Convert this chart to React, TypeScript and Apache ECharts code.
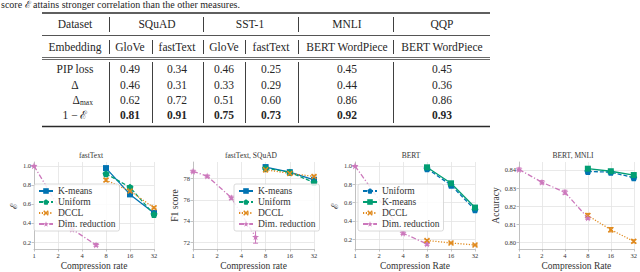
import React, { useEffect, useRef } from "react";
import * as echarts from "echarts";

// ---------- table data ----------
const caption = "score ℰ attains stronger correlation than the other measures.";
const datasets = ["SQuAD", "SST-1", "MNLI", "QQP"];
const embeddings = ["GloVe", "fastText", "GloVe", "fastText", "BERT WordPiece", "BERT WordPiece"];
const pipLoss = [0.49, 0.34, 0.46, 0.25, 0.45, 0.45];
const deltaCorr = [0.46, 0.31, 0.33, 0.29, 0.44, 0.36];
const deltaMaxCorr = [0.62, 0.72, 0.51, 0.6, 0.86, 0.86];
const oneMinusECorr = [0.81, 0.91, 0.75, 0.73, 0.92, 0.93];

// ---------- chart data ----------
const quantRates = [8, 16, 32];

// fastText
const ftKmeans = [0.976, 0.7, 0.505];
const ftKmeansErr = [0.015, 0.015, 0.01];
const ftUniform = [0.917, 0.775, 0.49];
const ftUniformErr = [0.015, 0.015, 0.01];
const ftDccl = [0.85, 0.735, 0.56];
const ftDcclErr = [0.015, 0.012, 0.01];
const ftDimRates = [1, 3, 6];
const ftDim = [1.0, 0.335, 0.17];
const ftDimErr = [0.005, 0.01, 0.015];

// fastText, SQuAD
const sqKmeans = [79.1, 78.62, 77.9];
const sqKmeansErr = [0.12, 0.08, 0.1];
const sqUniform = [79.0, 78.6, 77.65];
const sqUniformErr = [0.1, 0.1, 0.15];
const sqDccl = [78.85, 78.5, 78.22];
const sqDcclErr = [0.2, 0.15, 0.1];
const sqDimRates = [1, 1.5, 3, 6];
const sqDim = [78.7, 78.25, 76.2, 72.5];
const sqDimErr = [0.1, 0.1, 0.15, 0.6];

// BERT
const btUniform = [0.97, 0.79, 0.52];
const btUniformErr = [0.01, 0.01, 0.01];
const btKmeans = [0.985, 0.81, 0.545];
const btKmeansErr = [0.01, 0.01, 0.01];
const btDccl = [0.185, 0.158, 0.136];
const btDcclErr = [0.01, 0.008, 0.008];
const btDimRates = [1, 4, 8];
const btDim = [1.0, 0.265, 0.147];
const btDimErr = [0.005, 0.015, 0.015];

// BERT, MNLI
const mnUniform = [0.8392, 0.8388, 0.8357];
const mnUniformErr = [0.0012, 0.0008, 0.0008];
const mnKmeans = [0.8407, 0.8393, 0.8372];
const mnKmeansErr = [0.0006, 0.0006, 0.0005];
const mnDccl = [0.8148, 0.807, 0.8006];
const mnDcclErr = [0.0012, 0.0012, 0.0008];
const mnDimRates = [1, 2, 4, 8];
const mnDim = [0.8403, 0.8332, 0.8277, 0.8135];
const mnDimErr = [0.0008, 0.0009, 0.0011, 0.0008];

const yTicksE = [0.2, 0.4, 0.6, 0.8, 1.0];
const yTicksF1 = [72, 74, 76, 78];
const yTicksAcc = [0.8, 0.81, 0.82, 0.83, 0.84];

// ---------- styles ----------
const serif = "Liberation Serif";
const BLUE = "#0173B2";
const GREEN = "#029E73";
const ORANGE = "#E08A1E";
const PINK = "#CC78BC";

const STAR = "path://M50,2 L61,37 L98,37 L68,59 L79,95 L50,73 L21,95 L32,59 L2,37 L39,37 Z";
const XMARK = "path://M0,18 L18,0 L50,32 L82,0 L100,18 L68,50 L100,82 L82,100 L50,68 L18,100 L0,82 L32,50 Z";
const PENT = "path://M50,0 L98,35 L79,92 L21,92 L2,35 Z";

const METHOD: Record<string, any> = {
  kmeans: { label: "K-means", dash: "solid", symbol: "rect", size: 6 },
  uniform: { label: "Uniform", dash: [4, 2], symbol: PENT, size: 7 },
  dccl: { label: "DCCL", dash: [1.2, 1.6], symbol: XMARK, size: 6 },
  dim: { label: "Dim. reduction", dash: [5, 2, 1.2, 2], symbol: STAR, size: 7 },
};

type S = { method: string; color: string; xs: number[]; ys: number[]; errs: number[] };
type C = {
  title: string; titleX: number; xName: string; yName: string; nameGap: number;
  min: number; max: number; ticks: number[]; dec: number;
  grid: { left: number; top: number; width: number; height: number };
  legend?: { left: number; top: number };
  series: S[];
};

const charts: C[] = [
  {
    title: "fastText", titleX: 91, xName: "Compression rate", yName: "ℰ", nameGap: 8,
    min: 0.127, max: 1.04, ticks: yTicksE, dec: 1,
    grid: { left: 34, top: 162, width: 120, height: 88 },
    legend: { left: 34, top: 184 },
    series: [
      { method: "kmeans", color: BLUE, xs: quantRates, ys: ftKmeans, errs: ftKmeansErr },
      { method: "uniform", color: GREEN, xs: quantRates, ys: ftUniform, errs: ftUniformErr },
      { method: "dccl", color: ORANGE, xs: quantRates, ys: ftDccl, errs: ftDcclErr },
      { method: "dim", color: PINK, xs: ftDimRates, ys: ftDim, errs: ftDimErr },
    ],
  },
  {
    title: "fastText, SQuAD", titleX: 251, xName: "Compression rate", yName: "F1 score", nameGap: 11,
    min: 71.35, max: 79.58, ticks: yTicksF1, dec: 0,
    grid: { left: 193, top: 162, width: 121, height: 89 },
    legend: { left: 234, top: 184 },
    series: [
      { method: "kmeans", color: BLUE, xs: quantRates, ys: sqKmeans, errs: sqKmeansErr },
      { method: "uniform", color: GREEN, xs: quantRates, ys: sqUniform, errs: sqUniformErr },
      { method: "dccl", color: ORANGE, xs: quantRates, ys: sqDccl, errs: sqDcclErr },
      { method: "dim", color: PINK, xs: sqDimRates, ys: sqDim, errs: sqDimErr },
    ],
  },
  {
    title: "BERT", titleX: 411, xName: "Compression Rate", yName: "ℰ", nameGap: 7,
    min: 0.092, max: 1.043, ticks: yTicksE, dec: 1,
    grid: { left: 355, top: 162, width: 120, height: 88 },
    legend: { left: 358, top: 184 },
    series: [
      { method: "uniform", color: BLUE, xs: quantRates, ys: btUniform, errs: btUniformErr },
      { method: "kmeans", color: GREEN, xs: quantRates, ys: btKmeans, errs: btKmeansErr },
      { method: "dccl", color: ORANGE, xs: quantRates, ys: btDccl, errs: btDcclErr },
      { method: "dim", color: PINK, xs: btDimRates, ys: btDim, errs: btDimErr },
    ],
  },
  {
    title: "BERT, MNLI", titleX: 573, xName: "Compression Rate", yName: "Accuracy", nameGap: 17,
    min: 0.79635, max: 0.8444, ticks: yTicksAcc, dec: 2,
    grid: { left: 519, top: 162, width: 118, height: 88 },
    series: [
      { method: "uniform", color: BLUE, xs: quantRates, ys: mnUniform, errs: mnUniformErr },
      { method: "kmeans", color: GREEN, xs: quantRates, ys: mnKmeans, errs: mnKmeansErr },
      { method: "dccl", color: ORANGE, xs: quantRates, ys: mnDccl, errs: mnDcclErr },
      { method: "dim", color: PINK, xs: mnDimRates, ys: mnDim, errs: mnDimErr },
    ],
  },
];

// ---------- table graphics ----------
function tableGraphics(): any[] {
  const els: any[] = [];
  const txt = (x: number, y: number, text: string, extra: any = {}) =>
    els.push({
      type: "text", x, y, silent: true,
      style: {
        text, fontFamily: serif, fontSize: 11.5, fill: "#262626",
        textAlign: "center", textVerticalAlign: "middle", align: "center", verticalAlign: "middle",
        ...extra,
      },
    });
  const ln = (x1: number, y1: number, x2: number, y2: number, w: number) =>
    els.push({ type: "line", silent: true, shape: { x1, y1, x2, y2 }, style: { stroke: "#2a2a2a", lineWidth: w } });

  txt(1, 4.5, caption, { textAlign: "left", align: "left", fontSize: 10 });

  const L = 42, R = 490;
  ln(L, 13, R, 13, 1.3);
  ln(L, 35.5, R, 35.5, 0.8);
  ln(L, 57.5, R, 57.5, 0.7);
  ln(L, 59.5, R, 59.5, 0.7);
  ln(L, 126.5, R, 126.5, 1.3);

  const labelX = 75;
  const dsX = [157, 250, 347, 442];
  const colX = [130, 177, 224, 271, 347, 442];
  const rowY = [69, 84.5, 99.5, 115];

  txt(labelX, 24, "Dataset");
  datasets.forEach((d, i) => txt(dsX[i], 24, d));
  txt(labelX, 47, "Embedding");
  embeddings.forEach((e, i) => txt(colX[i], 47, e));

  const rows = [pipLoss, deltaCorr, deltaMaxCorr, oneMinusECorr];
  txt(labelX, rowY[0], "PIP loss");
  txt(labelX, rowY[1], "Δ");
  txt(80, rowY[2], "Δ", { textAlign: "right", align: "right" });
  txt(80, rowY[2] + 3, "max", { textAlign: "left", align: "left", fontSize: 7.5 });
  txt(labelX, rowY[3], "1 − ℰ");
  rows.forEach((r, ri) =>
    r.forEach((v, ci) =>
      txt(colX[ci], rowY[ri], v.toFixed(2), ri === 3 ? { fontWeight: "bold" } : {})
    )
  );

  const vHead = [109, 203, 298, 393];
  const vBody = [109, 152, 203, 245, 298, 393];
  vHead.forEach((x) => ln(x + 0.5, 17, x + 0.5, 32, 0.9));
  vBody.forEach((x) => ln(x + 0.5, 40, x + 0.5, 54, 0.9));
  vBody.forEach((x) => ln(x + 0.5, 62, x + 0.5, 123, 0.9));
  return els;
}

// ---------- error bar renderer ----------
const renderErr = (params: any, api: any) => {
  const x = api.value(0);
  const y = api.value(1);
  const e = api.value(2);
  const top = api.coord([x, y + e]);
  const bot = api.coord([x, y - e]);
  const cap = 2.5;
  const style = { stroke: api.visual("color"), lineWidth: 1 };
  return {
    type: "group",
    children: [
      { type: "line", shape: { x1: top[0], y1: top[1], x2: bot[0], y2: bot[1] }, style },
      { type: "line", shape: { x1: top[0] - cap, y1: top[1], x2: top[0] + cap, y2: top[1] }, style },
      { type: "line", shape: { x1: bot[0] - cap, y1: bot[1], x2: bot[0] + cap, y2: bot[1] }, style },
    ],
  };
};

function buildOption() {
  const gridLine = { color: "#e3e3e3", width: 0.8 };
  const axisCol = "#b5b5b5";
  const grids: any[] = [];
  const xAxes: any[] = [];
  const yAxes: any[] = [];
  const legends: any[] = [];
  const series: any[] = [];
  const titles: any[] = [];

  charts.forEach((c, i) => {
    grids.push({ ...c.grid, containLabel: false });
    xAxes.push({
      type: "log", logBase: 2, min: 1, max: 32, gridIndex: i,
      name: c.xName, nameLocation: "middle", nameGap: 12,
      nameTextStyle: { fontFamily: serif, fontSize: 9.5, color: "#333" },
      axisLine: { show: true, lineStyle: { color: axisCol, width: 0.8 } },
      axisTick: { show: true, length: 2.5, lineStyle: { color: axisCol, width: 0.8 } },
      axisLabel: {
        fontFamily: serif, fontSize: 6.5, color: "#333", margin: 3,
        formatter: (v: number) => String(Math.round(v)),
      },
      splitLine: { show: true, lineStyle: gridLine },
      minorTick: { show: false },
      minorSplitLine: { show: false },
    });
    yAxes.push({
      type: "value", gridIndex: i, min: c.min, max: c.max,
      name: c.yName, nameLocation: "middle", nameGap: c.nameGap,
      nameTextStyle: { fontFamily: serif, fontSize: 9.5, color: "#333" },
      axisLine: { show: true, lineStyle: { color: axisCol, width: 0.8 } },
      axisTick: { show: true, length: 2.5, customValues: c.ticks, lineStyle: { color: axisCol, width: 0.8 } },
      axisLabel: {
        fontFamily: serif, fontSize: 6.5, color: "#333", margin: 3,
        customValues: c.ticks,
        formatter: (v: number) => v.toFixed(c.dec),
      },
      splitLine: { show: true, lineStyle: gridLine },
    });
    titles.push({
      type: "text", x: c.titleX, y: 155, silent: true,
      style: {
        text: c.title, fontFamily: serif, fontSize: 7.5, fill: "#333",
        textAlign: "center", textVerticalAlign: "middle", align: "center", verticalAlign: "middle",
      },
    });
    const names: string[] = [];
    c.series.forEach((s) => {
      const m = METHOD[s.method];
      const name = `${m.label}@${i}`;
      names.push(name);
      series.push({
        type: "custom", xAxisIndex: i, yAxisIndex: i, silent: true,
        renderItem: renderErr, encode: { x: 0, y: 1 },
        itemStyle: { color: s.color }, z: 2,
        data: s.xs.map((x, k) => [x, s.ys[k], s.errs[k]]),
      });
      series.push({
        type: "line", name, xAxisIndex: i, yAxisIndex: i,
        data: s.xs.map((x, k) => [x, s.ys[k]]),
        color: s.color, itemStyle: { color: s.color },
        lineStyle: { color: s.color, width: 1.3, type: m.dash },
        symbol: m.symbol, symbolSize: m.size, showSymbol: true, z: 3,
      });
    });
    if (c.legend) {
      legends.push({
        orient: "vertical", left: c.legend.left, top: c.legend.top,
        itemWidth: 14, itemHeight: 7, itemGap: 1,
        padding: [2, 4, 2, 4],
        borderColor: "#d0d0d0", borderWidth: 0.8, borderRadius: 2,
        backgroundColor: "rgba(255,255,255,0.85)",
        textStyle: { fontFamily: serif, fontSize: 9.5, color: "#333", lineHeight: 9 },
        data: names, selectedMode: false,
        formatter: (n: string) => n.split("@")[0],
      });
    }
  });

  return {
    animation: false,
    backgroundColor: "#ffffff",
    textStyle: { fontFamily: serif },
    grid: grids,
    xAxis: xAxes,
    yAxis: yAxes,
    legend: legends,
    series,
    graphic: [...tableGraphics(), ...titles],
  };
}

export default function App() {
  const ref = useRef<HTMLDivElement>(null);
  useEffect(() => {
    if (!ref.current) return;
    const chart = echarts.init(ref.current, undefined, { renderer: "svg" });
    chart.setOption(buildOption() as any);
    return () => chart.dispose();
  }, []);
  return (
    <div
      ref={ref}
      style={{ position: "absolute", left: 0, top: 0, width: 640, height: 272, background: "#fff" }}
    />
  );
}
